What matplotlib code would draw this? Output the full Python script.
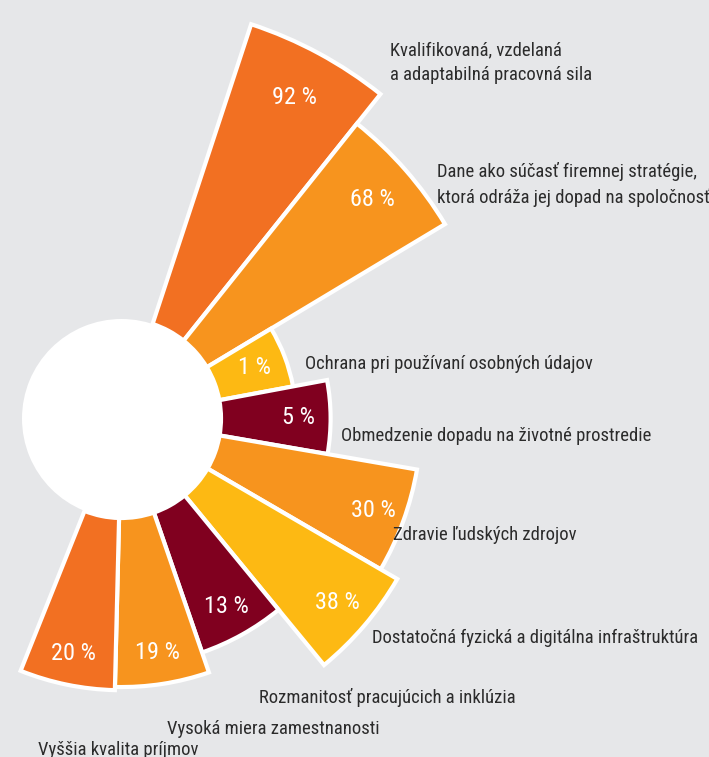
import numpy as np
import matplotlib
matplotlib.use("Agg")
import matplotlib.pyplot as plt

# ---------------- data ----------------
categories = [
    "Kvalifikovaná, vzdelaná\na adaptabilná pracovná sila",
    "Dane ako súčasť firemnej stratégie,\nktorá odráža jej dopad na spoločnosť",
    "Ochrana pri používaní osobných údajov",
    "Obmedzenie dopadu na životné prostredie",
    "Zdravie ľudských zdrojov",
    "Dostatočná fyzická a digitálna infraštruktúra",
    "Rozmanitosť pracujúcich a inklúzia",
    "Vysoká miera zamestnanosti",
    "Vyššia kvalita príjmov",
]
values = [92, 68, 1, 5, 30, 38, 13, 19, 20]
value_labels = [f"{v} %" for v in values]

# ---------------- style ----------------
BG = "#e6e7e9"
DARK_ORANGE = "#f27022"
ORANGE = "#f7941e"
YELLOW = "#fdb913"
MAROON = "#80001f"
bar_colors = [DARK_ORANGE, ORANGE, YELLOW, MAROON, ORANGE, YELLOW, MAROON, ORANGE, DARK_ORANGE]
FONT = ["Roboto Condensed", "DejaVu Sans"]
TEXT_COLOR = "#2b2b2b"

W, H, DPI = 709, 757, 100
fig = plt.figure(figsize=(W / DPI, H / DPI), dpi=DPI, facecolor=BG)

# polar axes measured in pixel units, centre of the rose
CX, CY = 121.5, 418.5
RMAX = 440
ax = fig.add_axes([(CX - RMAX) / W, (H - CY - RMAX) / H, 2 * RMAX / W, 2 * RMAX / H],
                  projection="polar")
ax.set_facecolor("none")
ax.set_ylim(0, RMAX)
ax.set_axis_off()

R_IN = 99.5


def radial(v):
    # square-root scale for bar length
    return 47 + 28 * np.sqrt(np.asarray(v, dtype=float))


n = len(values)
start = np.deg2rad(71.8)
step = np.deg2rad(20.4)
theta = start - step * (np.arange(n) + 0.5)
heights = radial(values)

ax.bar(theta, heights, width=step, bottom=R_IN, color=bar_colors,
       edgecolor="white", linewidth=3, align="center", zorder=2)
# white centre disc
ax.bar(0, R_IN, width=2 * np.pi, bottom=0, color="white", linewidth=0, zorder=3)

for t, h, lab in zip(theta, heights, value_labels):
    r_lab = R_IN + min(0.84 * h, h - 32)
    ax.text(t, r_lab, lab, ha="center", va="center", color="white",
            fontsize=17.5, family=FONT, zorder=4)

# category labels (pixel anchor: left x, baseline y of last line)
label_pos = [(390, 80), (437, 203), (305, 369), (341, 441), (393, 540),
             (372, 643), (259, 703), (167, 734), (38, 755)]
for (px, py), txt in zip(label_pos, categories):
    fig.text(px / W, 1 - py / H, txt, ha="left", va="baseline", color=TEXT_COLOR,
             fontsize=13.4, family=FONT, linespacing=1.45)

fig.savefig("out.png", dpi=DPI, facecolor=BG)
